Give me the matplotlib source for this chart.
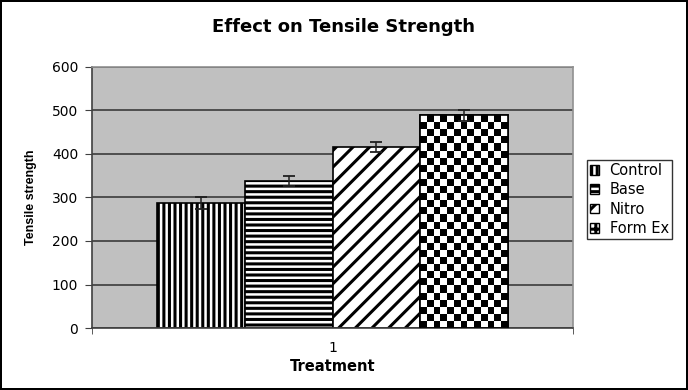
import numpy as np
import matplotlib
import matplotlib.pyplot as plt
from matplotlib.patches import Patch

plt.rcParams['font.family'] = ['DejaVu Sans']
plt.rcParams['hatch.linewidth'] = 2.2

treatments = ['Control', 'Base', 'Nitro', 'Form Ex']
strength = [288, 338, 416, 489]
errors = [14, 11, 12, 13]
hatches = ['|||', '---', '//', None]
category = ['1']

fig = plt.figure(figsize=(6.88, 3.90), dpi=100)
fig.patch.set_edgecolor('black')
fig.patch.set_linewidth(1.5)

W, H = 688, 390
ax = fig.add_axes([92 / W, 1 - 328 / H, 481 / W, 261 / H])
ax.set_facecolor('#c0c0c0')
ax.set_xlim(0.5, 1.5)
ax.set_ylim(0, 600)
ax.set_yticks(range(0, 601, 100))
ax.yaxis.grid(True, color='#303030', linewidth=1.1)
ax.set_axisbelow(True)

bw = 0.182
bars = []
for i, (name, v, e, h) in enumerate(zip(treatments, strength, errors, hatches)):
    x = 1 + (i - 1.5) * bw
    b = ax.bar(x, v, bw, color='white', edgecolor='black', linewidth=1.2,
               hatch=h, zorder=2)
    bars.append(b[0])
    ax.errorbar(x, v, yerr=e, color='#202020', capsize=4, elinewidth=1.1,
                capthick=1.3, zorder=4)

# checkerboard fill for Form Ex
p = bars[3]
fig.canvas.draw()
bb = p.get_window_extent()
cell = 7.0
nc = max(1, int(round(bb.width / cell)))
nr = max(1, int(round(bb.height / cell)))
checker = (np.add.outer(np.arange(nr), np.arange(nc)) % 2).astype(float)
x0, y0 = p.get_x(), p.get_y()
im = ax.imshow(checker, cmap='gray', interpolation='nearest', aspect='auto',
               extent=[x0, x0 + p.get_width(), y0, y0 + p.get_height()],
               origin='lower', zorder=2.5)
im.set_clip_path(p)
ax.bar(p.get_x() + p.get_width() / 2, strength[3], bw, fill=False,
       edgecolor='black', linewidth=1.2, zorder=3)
ax.set_xlim(0.5, 1.5)
ax.set_ylim(0, 600)

ax.set_xticks([1])
ax.set_xticklabels(category)
ax.set_xticks([0.5, 1.5], minor=True)
ax.tick_params(axis='x', which='major', length=0, labelsize=10, pad=9)
ax.tick_params(axis='x', which='minor', length=4, direction='out', color='#404040')
ax.tick_params(axis='y', length=5, direction='out', labelsize=10, color='#404040', pad=5)

for s in ['left', 'bottom']:
    ax.spines[s].set_color('#404040')
    ax.spines[s].set_linewidth(1.2)
for s in ['right', 'top']:
    ax.spines[s].set_color('#909090')
    ax.spines[s].set_linewidth(1.2)

ax.set_xlabel('Treatment', fontsize=10.5, fontweight='bold')
ax.xaxis.set_label_coords(0.5, (328 - 359) / 261)
ax.set_ylabel('Tensile strength', fontsize=9, fontweight='bold',
              family=['Liberation Sans Narrow', 'Liberation Sans'])
ax.yaxis.set_label_coords((37 - 92) / 481, 0.5)
fig.text(0.5, 1 - 27 / H, 'Effect on Tensile Strength', ha='center', va='center',
         fontsize=13, fontweight='bold')

handles = []
for name, h in zip(treatments, hatches):
    if h is None:
        handles.append(Patch(facecolor='white', edgecolor='black', hatch='++', label=name))
    else:
        handles.append(Patch(facecolor='white', edgecolor='black', hatch=h, label=name))
leg = fig.legend(handles=handles, loc='upper left',
                 bbox_to_anchor=(587 / W, 1 - 160 / H), fontsize=10.5,
                 frameon=True, fancybox=False, edgecolor='black',
                 handlelength=0.65, handleheight=0.65, handletextpad=0.7,
                 borderpad=0.2, labelspacing=0.3, borderaxespad=0)
leg.get_frame().set_linewidth(1)

plt.savefig('out.png', dpi=100)
